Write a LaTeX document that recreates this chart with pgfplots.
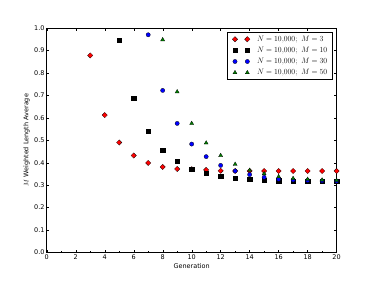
\documentclass[border=0pt]{standalone}
\usepackage{fontspec}
\setmainfont{DejaVu Sans}
\usepackage{pgfplots}
\pgfplotsset{compat=1.18}
\definecolor{mplgreen}{rgb}{0,0.5,0}
\pgfplotsset{
  twomarks/.style={only marks,
    legend image code/.code={\path[draw=none,fill=none] (-7bp,0bp) -- (32bp,0bp);\draw[only marks] plot coordinates {(0bp,0bp) (19bp,0bp)};}},
}
\begin{document}
\begin{tikzpicture}
\useasboundingbox (0,0) rectangle (576bp,432bp);
\begin{axis}[
  at={(72bp,43.2bp)}, anchor=south west,
  scale only axis, width=446.4bp, height=345.6bp,
  xmin=0, xmax=20, ymin=0, ymax=1,
  xtick={0,2,4,6,8,10,12,14,16,18,20},
  minor xtick={1,3,5,7,9,11,13,15,17,19},
  ytick={0,0.1,0.2,0.3,0.4,0.5,0.6,0.7,0.8,0.9,1.0},
  tick align=inside,
  major tick length=4bp, minor tick length=2bp,
  every tick/.style={black, line width=0.5bp},
  yticklabel style={/pgf/number format/.cd, fixed, fixed zerofill, precision=1},
  /pgf/number format/assume math mode=true,
  tick label style={font=\fontsize{10}{12}\selectfont},
  xlabel={Generation}, ylabel={$M$ Weighted Length Average},
  label style={font=\fontsize{10}{12}\selectfont},
  axis line style={line width=0.8bp},
  legend style={at={(1,1)}, anchor=north east, xshift=-7bp, yshift=-6bp,
    font=\fontsize{12.5}{14}\selectfont, draw=black, line width=0.8bp,
    row sep=3.5bp, inner xsep=5bp, inner ysep=4bp},
  legend cell align=left,
]
\addplot[twomarks, mark=square*, mark size=2.9bp, mark options={rotate=45, fill=red, draw=black, line width=0.4bp}]
coordinates {(3,0.878)(4,0.612)(5,0.490)(6,0.432)(7,0.399)(8,0.381)(9,0.372)(10,0.371)(11,0.368)(12,0.364)(13,0.363)(14,0.363)(15,0.363)(16,0.363)(17,0.363)(18,0.363)(19,0.363)(20,0.363)};
\addlegendentry{$N=10{,}000;\ M=3$}
\addplot[twomarks, mark=square*, mark size=3.2bp, mark options={fill=black, draw=black, line width=0.4bp}]
coordinates {(5,0.948)(6,0.686)(7,0.540)(8,0.455)(9,0.406)(10,0.372)(11,0.353)(12,0.340)(13,0.332)(14,0.326)(15,0.323)(16,0.320)(17,0.318)(18,0.317)(19,0.316)(20,0.316)};
\addlegendentry{$N=10{,}000;\ M=10$}
\addplot[twomarks, mark=*, mark size=3.3bp, mark options={fill=blue, draw=black, line width=0.4bp}]
coordinates {(7,0.970)(8,0.722)(9,0.575)(10,0.483)(11,0.427)(12,0.388)(13,0.363)(14,0.347)(15,0.335)(16,0.326)(17,0.323)(18,0.321)(19,0.319)(20,0.318)};
\addlegendentry{$N=10{,}000;\ M=30$}
\addplot[twomarks, mark=triangle*, mark size=3.6bp, mark options={fill=mplgreen, draw=black, line width=0.4bp}]
coordinates {(8,0.948)(9,0.716)(10,0.575)(11,0.488)(12,0.432)(13,0.393)(14,0.366)(15,0.351)(16,0.338)(17,0.330)(18,0.326)(19,0.323)(20,0.321)};
\addlegendentry{$N=10{,}000;\ M=50$}
\end{axis}
\end{tikzpicture}
\end{document}
